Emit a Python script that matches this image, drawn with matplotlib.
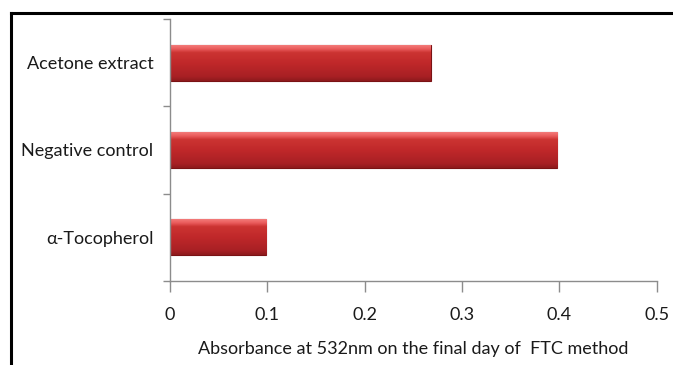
import matplotlib
matplotlib.use("Agg")
import matplotlib.pyplot as plt
import numpy as np
from matplotlib.lines import Line2D
from matplotlib.colors import LinearSegmentedColormap

categories = ["α-Tocopherol", "Negative control", "Acetone extract"]
values = [0.099, 0.398, 0.268]
xticks = [0, 0.1, 0.2, 0.3, 0.4, 0.5]
xlabel = "Absorbance at 532nm on the final day of  FTC method"

plt.rcParams['font.family'] = ['Lato', 'DejaVu Sans']

W, H = 673, 365
fig = plt.figure(figsize=(W/100, H/100), dpi=100)
ax = fig.add_axes([170/W, 1-281/H, (656.7-170)/W, (281-19)/H])

ypos = np.arange(len(categories))
bh = 0.41
bars = ax.barh(ypos, values, height=bh, color="#b8262a", edgecolor="#7a1214", linewidth=0.8, zorder=2)

# vertical gradient inside each bar
cmap = LinearSegmentedColormap.from_list("bar", [
    (0.0, "#8e1a1c"), (0.12, "#a82024"), (0.5, "#c0282a"), (0.8, "#cc3432"),
    (0.9, "#ea5c5c"), (1.0, "#f27a78")])
grad = np.linspace(0, 1, 64).reshape(-1, 1)
for b in bars:
    x0, y0, w, h = b.get_x(), b.get_y(), b.get_width(), b.get_height()
    im = ax.imshow(grad, cmap=cmap, aspect="auto", origin="lower",
                   extent=[x0, x0 + w, y0, y0 + h], zorder=2.5)
    im.set_clip_path(b)

ax.set_xlim(0, 0.5)
ax.set_ylim(-0.5, len(categories) - 0.5)
ax.set_xticks(xticks)
ax.set_xticklabels(["0", "0.1", "0.2", "0.3", "0.4", "0.5"])
ax.set_yticks(ypos)
ax.set_yticklabels(categories)
ax.set_yticks(np.arange(-0.5, len(categories), 1.0), minor=True)
ax.tick_params(axis="y", which="major", length=0, pad=12, labelsize=13, colors="#1a1a1a")
ax.tick_params(axis="y", which="minor", length=5, color="#8c8c8c", width=1)
ax.tick_params(axis="x", which="major", length=8, color="#8c8c8c", width=1, pad=11, labelsize=13, labelcolor="#1a1a1a")

for s in ["top", "right"]:
    ax.spines[s].set_visible(False)
for s in ["left", "bottom"]:
    ax.spines[s].set_color("#8c8c8c")
    ax.spines[s].set_linewidth(1)

ax.set_xlabel(xlabel, fontsize=13, color="#1a1a1a", labelpad=13)

# outer frame
fig.add_artist(Line2D([11/W, 1], [1-13/H, 1-13/H], color="black", lw=2.2, transform=fig.transFigure))
fig.add_artist(Line2D([11/W, 11/W], [0, 1-13/H], color="black", lw=2.2, transform=fig.transFigure))

fig.savefig("out.png", dpi=100)
